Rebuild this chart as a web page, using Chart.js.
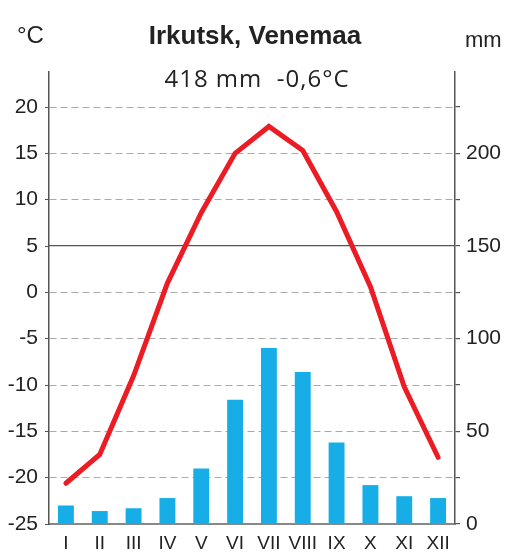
<!DOCTYPE html>
<html>
<head>
<meta charset="utf-8">
<script src="https://cdn.jsdelivr.net/npm/chart.js@4.4.1/dist/chart.umd.min.js"></script>
<style>
  html, body { margin: 0; padding: 0; background: #fff; }
  #climateChart { display: block; }
</style>
</head>
<body>
<canvas id="climateChart" width="513" height="559"></canvas>
<script>
// Irkutsk climate data
const months = ['I', 'II', 'III', 'IV', 'V', 'VI', 'VII', 'VIII', 'IX', 'X', 'XI', 'XII'];
const temperature = [-20.6, -17.5, -9.0, 1.0, 8.6, 15.0, 17.9, 15.3, 8.7, 0.6, -10.2, -17.8];
const precipitation = [10, 7, 8.5, 14, 30, 67, 95, 82, 44, 21, 15, 14];
const tempLabels = [-25, -20, -15, -10, -5, 0, 5, 10, 15, 20];
const rainLabels = [0, 50, 100, 150, 200];

const sans = "'Liberation Sans', Arial, sans-serif";
const axisColor = '#555';

// headings drawn on the canvas above the plot
const headingPlugin = {
  id: 'headings',
  afterDraw(chart) {
    const ctx = chart.ctx;
    ctx.save();
    ctx.fillStyle = '#222';
    ctx.textBaseline = 'alphabetic';

    ctx.textAlign = 'center';
    ctx.font = 'bold 26px ' + sans;
    ctx.fillText('Irkutsk, Venemaa', 255, 44);

    ctx.font = "24px 'Open Sans', sans-serif";
    ctx.letterSpacing = '1px';
    ctx.fillText('418 mm  -0,6°C', 257, 87);
    ctx.letterSpacing = '0px';

    ctx.textAlign = 'left';
    ctx.font = '24px ' + sans;
    ctx.fillText('°C', 17, 43);
    ctx.font = '22px ' + sans;
    ctx.fillText('mm', 465, 47);
    ctx.restore();
  }
};

function initializeClimateChart() {
  const ctx = document.getElementById('climateChart');
  return new Chart(ctx, {
    data: {
      labels: months,
      datasets: [
        {
          type: 'line',
          data: temperature,
          yAxisID: 'y',
          borderColor: '#ec1c24',
          borderWidth: 5,
          pointRadius: 0,
          tension: 0,
          borderCapStyle: 'round',
          order: 1
        },
        {
          type: 'bar',
          data: precipitation,
          yAxisID: 'y1',
          backgroundColor: '#17aee8',
          barPercentage: 0.47,
          categoryPercentage: 1,
          order: 2
        }
      ]
    },
    options: {
      responsive: false,
      animation: false,
      layout: { padding: { top: 72, left: 0, right: 0, bottom: 0 } },
      plugins: {
        legend: { display: false },
        tooltip: { enabled: false }
      },
      scales: {
        x: {
          offset: true,
          grid: { display: true, drawOnChartArea: false, drawTicks: false },
          border: { color: '#888', width: 2 },
          ticks: {
            color: '#222',
            font: { family: sans, size: 19 },
            padding: 8,
            autoSkip: false,
            maxRotation: 0,
            minRotation: 0
          },
          afterFit(scale) { scale.height = 35; }
        },
        y: {
          position: 'left',
          min: -25,
          max: 23.78,
          ticks: {
            stepSize: 5,
            includeBounds: false,
            color: '#222',
            padding: 7,
            font: { family: sans, size: 21 },
            callback: v => tempLabels.includes(v) ? String(v) : ''
          },
          grid: {
            color: c => (c.tick && (c.tick.value === 5 || c.tick.value === -25)) ? 'transparent' : '#aaa',
            lineWidth: 1,
            tickColor: axisColor,
            tickLength: 4,
            tickBorderDash: []
          },
          border: { color: axisColor, width: 1.5, dash: [7, 4] },
          afterFit(scale) { scale.width = 49; }
        },
        y1: {
          position: 'right',
          min: 0,
          max: 243.9,
          ticks: {
            stepSize: 25,
            includeBounds: false,
            color: '#222',
            padding: 6,
            font: { family: sans, size: 21 },
            callback: v => rainLabels.includes(v) ? String(v) : ''
          },
          grid: {
            // only the 150 mm (5 °C) line is drawn solid across the plot
            color: c => (c.tick && c.tick.value === 150) ? axisColor : 'transparent',
            lineWidth: 1.2,
            tickColor: axisColor,
            tickLength: 5
          },
          border: { color: axisColor, width: 1.5 },
          afterFit(scale) { scale.width = 58; }
        }
      }
    },
    plugins: [headingPlugin]
  });
}

initializeClimateChart();
</script>
</body>
</html>
